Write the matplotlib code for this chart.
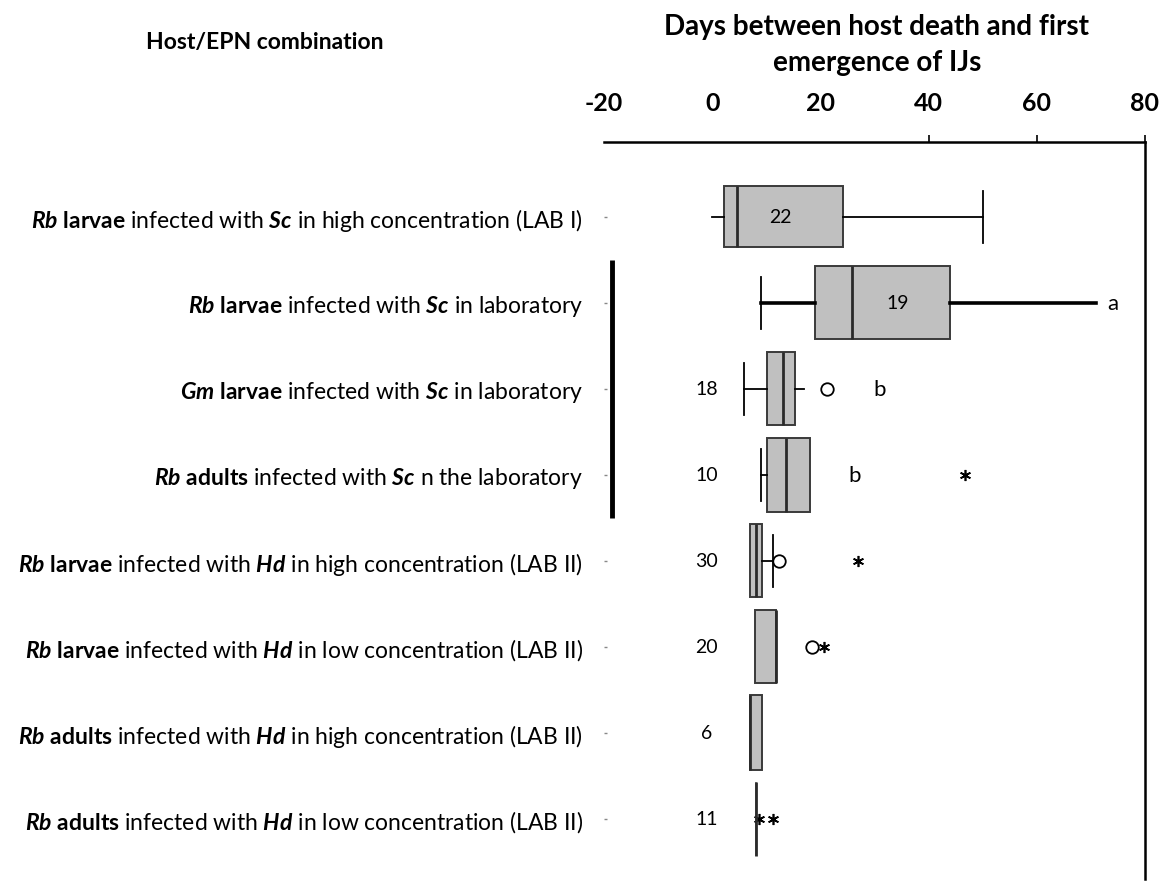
import matplotlib.pyplot as plt

plt.rcParams['font.family'] = ['Lato', 'DejaVu Sans']
plt.rcParams['mathtext.fontset'] = 'custom'
plt.rcParams['mathtext.rm'] = 'Lato'
plt.rcParams['mathtext.bf'] = 'Lato:bold'
plt.rcParams['mathtext.it'] = 'Lato:italic'
plt.rcParams['mathtext.bfit'] = 'Lato:italic:bold'

# host/EPN combinations (top to bottom)
grupos = [
    r'$\mathbfit{Rb}$ $\mathbf{larvae}$ infected with $\mathbfit{Sc}$ in high concentration (LAB I)',
    r'$\mathbfit{Rb}$ $\mathbf{larvae}$ infected with $\mathbfit{Sc}$ in laboratory',
    r'$\mathbfit{Gm}$ $\mathbf{larvae}$ infected with $\mathbfit{Sc}$ in laboratory',
    r'$\mathbfit{Rb}$ $\mathbf{adults}$ infected with $\mathbfit{Sc}$ n the laboratory',
    r'$\mathbfit{Rb}$ $\mathbf{larvae}$ infected with $\mathbfit{Hd}$ in high concentration (LAB II)',
    r'$\mathbfit{Rb}$ $\mathbf{larvae}$ infected with $\mathbfit{Hd}$ in low concentration (LAB II)',
    r'$\mathbfit{Rb}$ $\mathbf{adults}$ infected with $\mathbfit{Hd}$ in high concentration (LAB II)',
    r'$\mathbfit{Rb}$ $\mathbf{adults}$ infected with $\mathbfit{Hd}$ in low concentration (LAB II)',
]
n_amostra = ['22', '19', '18', '10', '30', '20', '6', '11']

# box statistics (days)
whislo = [0.0, 9.0, 5.9, 9.0, 7.0, 7.9, 7.0, 8.1]
q1 = [2.2, 19.0, 10.2, 10.2, 7.0, 7.9, 7.0, 8.1]
mediana = [4.6, 25.9, 13.1, 13.7, 8.1, 11.8, 7.0, 8.1]
q3 = [24.2, 44.0, 15.3, 18.1, 9.2, 11.8, 9.2, 8.1]
whishi = [50.0, 71.0, 17.0, 18.1, 11.3, 11.8, 9.2, 8.1]

# outliers (circles) and extremes (asterisks)
circ_linha = [2, 4, 5]
circ_valor = [21.2, 12.4, 18.5]
ext_linha = [3, 4, 5, 7, 7]
ext_valor = [46.7, 27.0, 20.7, 8.7, 11.3]

# significance letters
letra = ['a', 'b', 'b']
letra_linha = [1, 2, 3]
letra_x = [74, 31, 26.4]

fig = plt.figure(figsize=(11.63, 8.95), dpi=100)
ax = fig.add_axes([0.5193, 0.0168, 0.4652, 0.8234])

stats = []
for i in range(len(grupos)):
    stats.append(dict(med=mediana[i], q1=q1[i], q3=q3[i],
                      whislo=whislo[i], whishi=whishi[i], fliers=[]))

larguras = [0.71, 0.85, 0.85, 0.86, 0.85, 0.85, 0.87, 0.86]
bp = ax.bxp(stats, positions=range(len(grupos)), widths=larguras,
            orientation='horizontal', patch_artist=True, showfliers=False,
            capwidths=0.6,
            boxprops=dict(facecolor='#c0c0c0', edgecolor='#3a3a3a', linewidth=1.4),
            medianprops=dict(color='#2a2a2a', linewidth=2),
            whiskerprops=dict(color='black', linewidth=1.3),
            capprops=dict(color='black', linewidth=1.3))

# caps that are not drawn in the original
for k in [0, 3, 5, 7, 8, 10, 11, 12, 13, 14, 15]:
    bp['caps'][k].set_visible(False)
bp['whiskers'][2].set_linewidth(2.6)
bp['whiskers'][3].set_linewidth(2.6)
bp['boxes'][7].set_edgecolor('#8a8a8a')

ax.plot(circ_valor, circ_linha, 'o', mfc='white', mec='black', ms=9, mew=1.3)
ax.plot(ext_valor, ext_linha, ls='none', marker=(6, 2, 0), color='black', ms=8, mew=1.2)

for i, t in enumerate(n_amostra):
    if i == 0:
        ax.text(12.7, i, t, ha='center', va='center', fontsize=14)
    elif i == 1:
        ax.text(34.3, i, t, ha='center', va='center', fontsize=14)
    else:
        ax.text(-1.0, i, t, ha='center', va='center', fontsize=14)

for l, r, x in zip(letra, letra_linha, letra_x):
    ax.text(x, r, l, ha='center', va='center', fontsize=16)

# bar grouping the Sc laboratory assays
ax.plot([-18.5, -18.5], [0.5, 3.5], color='black', lw=3.5, solid_capstyle='butt')

ax.set_xlim(-20, 80)
ax.set_ylim(7.7, -0.87)
ax.xaxis.tick_top()
ax.set_xticks([-20, 0, 20, 40, 60, 80])
ax.set_xticklabels(['-20', '0', '20', '40', '60', '80'], fontsize=18, fontweight='bold')
ax.tick_params(axis='x', length=5, width=1.2, pad=15)
for t in ax.xaxis.get_major_ticks()[:3]:
    t.tick2line.set_visible(False)

ax.set_yticks(range(len(grupos)))
ax.set_yticklabels(grupos, fontsize=16.5)
ax.tick_params(axis='y', direction='in', length=2, width=1, color='#888888', pad=15)

for s in ['left', 'bottom']:
    ax.spines[s].set_visible(False)
for s in ['top', 'right']:
    ax.spines[s].set_linewidth(1.8)

fig.text(0.228, 0.953, 'Host/EPN combination', ha='center', va='center',
         fontsize=16.5, fontweight='bold')
fig.text(0.754, 0.950, 'Days between host death and first\nemergence of IJs',
         ha='center', va='center', fontsize=20, fontweight='bold', linespacing=1.5)

fig.savefig('out.png', dpi=100)
